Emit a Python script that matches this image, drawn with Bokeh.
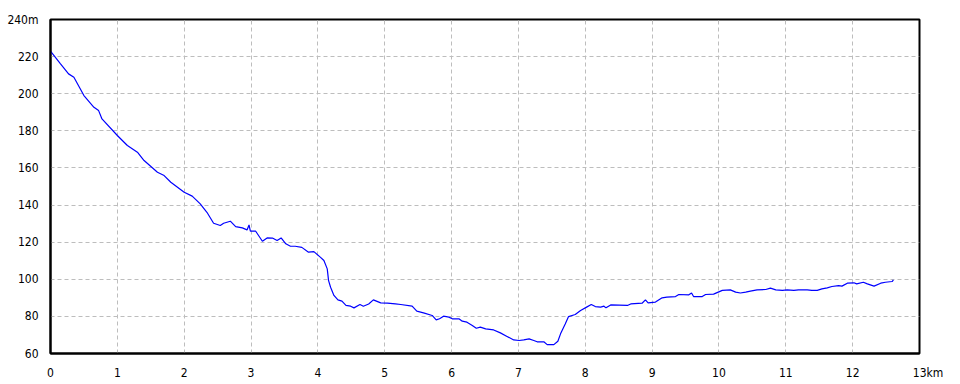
from bokeh.plotting import figure
from bokeh.models import Range1d, FixedTicker
from bokeh.embed import file_html
from bokeh.resources import INLINE

dist = [0.0, 0.15, 0.27, 0.35, 0.50, 0.65, 0.72, 0.77, 1.00, 1.15,
        1.30, 1.40, 1.60, 1.70, 1.80, 2.00, 2.12, 2.24, 2.34, 2.44,
        2.54, 2.59, 2.69, 2.77, 2.87, 2.94, 2.97, 2.99, 3.07, 3.17,
        3.24, 3.32, 3.39, 3.45, 3.52, 3.59, 3.66, 3.76, 3.86, 3.94,
        4.04, 4.09, 4.14, 4.16, 4.19, 4.24, 4.30, 4.36, 4.42, 4.49,
        4.54, 4.63, 4.68, 4.76, 4.83, 4.94, 5.04, 5.16, 5.24, 5.41,
        5.48, 5.58, 5.71, 5.77, 5.82, 5.88, 5.96, 6.01, 6.11, 6.16,
        6.23, 6.31, 6.37, 6.43, 6.51, 6.63, 6.73, 6.83, 6.93, 7.01,
        7.08, 7.16, 7.23, 7.28, 7.38, 7.43, 7.53, 7.59, 7.63, 7.70,
        7.75, 7.85, 7.93, 8.02, 8.09, 8.15, 8.23, 8.28, 8.31, 8.38,
        8.63, 8.68, 8.85, 8.90, 8.94, 9.05, 9.15, 9.22, 9.35, 9.40,
        9.55, 9.59, 9.62, 9.75, 9.80, 9.92, 10.05, 10.17, 10.25, 10.32,
        10.40, 10.47, 10.57, 10.70, 10.77, 10.85, 10.95, 11.02, 11.12, 11.19,
        11.32, 11.39, 11.47, 11.54, 11.62, 11.69, 11.79, 11.84, 11.92, 12.02,
        12.06, 12.16, 12.22, 12.32, 12.42, 12.49, 12.59, 12.61]

elev = [223.0, 216.1, 210.7, 208.9, 199.0, 192.7, 190.9, 186.4, 177.5, 172.1,
        168.5, 164.0, 157.7, 155.9, 152.3, 146.9, 144.8, 140.6, 136.1, 130.2,
        129.0, 130.2, 131.3, 128.4, 127.7, 126.6, 129.3, 125.9, 125.9, 120.5,
        122.3, 122.2, 120.9, 122.3, 119.1, 117.8, 117.8, 117.2, 114.6, 114.9,
        111.8, 110.1, 105.6, 99.3, 95.7, 91.3, 88.9, 88.2, 85.9, 85.5,
        84.6, 86.4, 85.5, 86.7, 88.9, 87.3, 87.1, 86.7, 86.4, 85.5,
        82.8, 81.9, 80.5, 78.1, 78.7, 80.1, 79.6, 78.7, 78.7, 77.4,
        76.9, 75.1, 73.6, 74.2, 73.3, 72.7, 71.1, 69.2, 67.3, 67.0,
        67.3, 67.9, 67.0, 66.3, 66.3, 64.8, 64.8, 66.6, 70.6, 75.9,
        79.9, 81.0, 83.2, 85.0, 86.4, 85.3, 85.0, 85.5, 84.6, 86.2,
        85.9, 86.7, 87.1, 88.9, 87.3, 87.7, 90.0, 90.4, 90.7, 91.8,
        91.6, 92.6, 90.7, 90.7, 91.8, 92.0, 94.0, 94.3, 93.1, 92.6,
        93.1, 93.6, 94.3, 94.5, 95.2, 94.3, 94.0, 94.3, 94.0, 94.3,
        94.3, 94.0, 94.0, 94.8, 95.4, 96.1, 96.6, 96.3, 97.9, 98.1,
        97.5, 98.4, 97.5, 96.3, 97.9, 98.4, 98.8, 99.7]

x_ticks = list(range(0, 14))
y_ticks = list(range(60, 241, 20))
x_tick_labels = {t: str(t) for t in x_ticks}
# unit appended after the last number, number kept centred on its tick
x_tick_labels[13] = "\u00a0" * 5 + "13km"
y_tick_labels = {t: str(t) for t in y_ticks}
y_tick_labels[240] = "240m"

FONT = "DejaVu Sans Condensed"

p = figure(width=960, height=384, output_backend="svg", toolbar_location=None,
           x_range=Range1d(0, 13), y_range=Range1d(60, 240),
           min_border_left=50, min_border_right=41, min_border_top=19,
           min_border_bottom=31)
p.background_fill_color = "white"
p.border_fill_color = "white"
p.outline_line_color = "black"
p.outline_line_width = 2

p.line(dist, elev, line_color="#0000ff", line_width=1.2)

for ax in (p.xaxis[0], p.yaxis[0]):
    ax.major_tick_line_color = None
    ax.minor_tick_line_color = None
    ax.axis_line_color = "black"
    ax.axis_line_width = 2
    ax.major_label_text_font = FONT
    ax.major_label_text_font_size = "12px"
    ax.major_label_text_color = "black"
    ax.major_label_standoff = 6

p.xaxis[0].ticker = FixedTicker(ticks=x_ticks)
p.yaxis[0].ticker = FixedTicker(ticks=y_ticks)
p.xaxis[0].major_label_overrides = x_tick_labels
p.yaxis[0].major_label_overrides = y_tick_labels

for g in (p.xgrid[0], p.ygrid[0]):
    g.grid_line_color = "#bdbdbd"
    g.grid_line_dash = "4 3"
    g.grid_line_width = 1
p.xgrid[0].ticker = FixedTicker(ticks=x_ticks)
p.ygrid[0].ticker = FixedTicker(ticks=y_ticks)

open("out.html", "w").write(file_html(p, INLINE))
